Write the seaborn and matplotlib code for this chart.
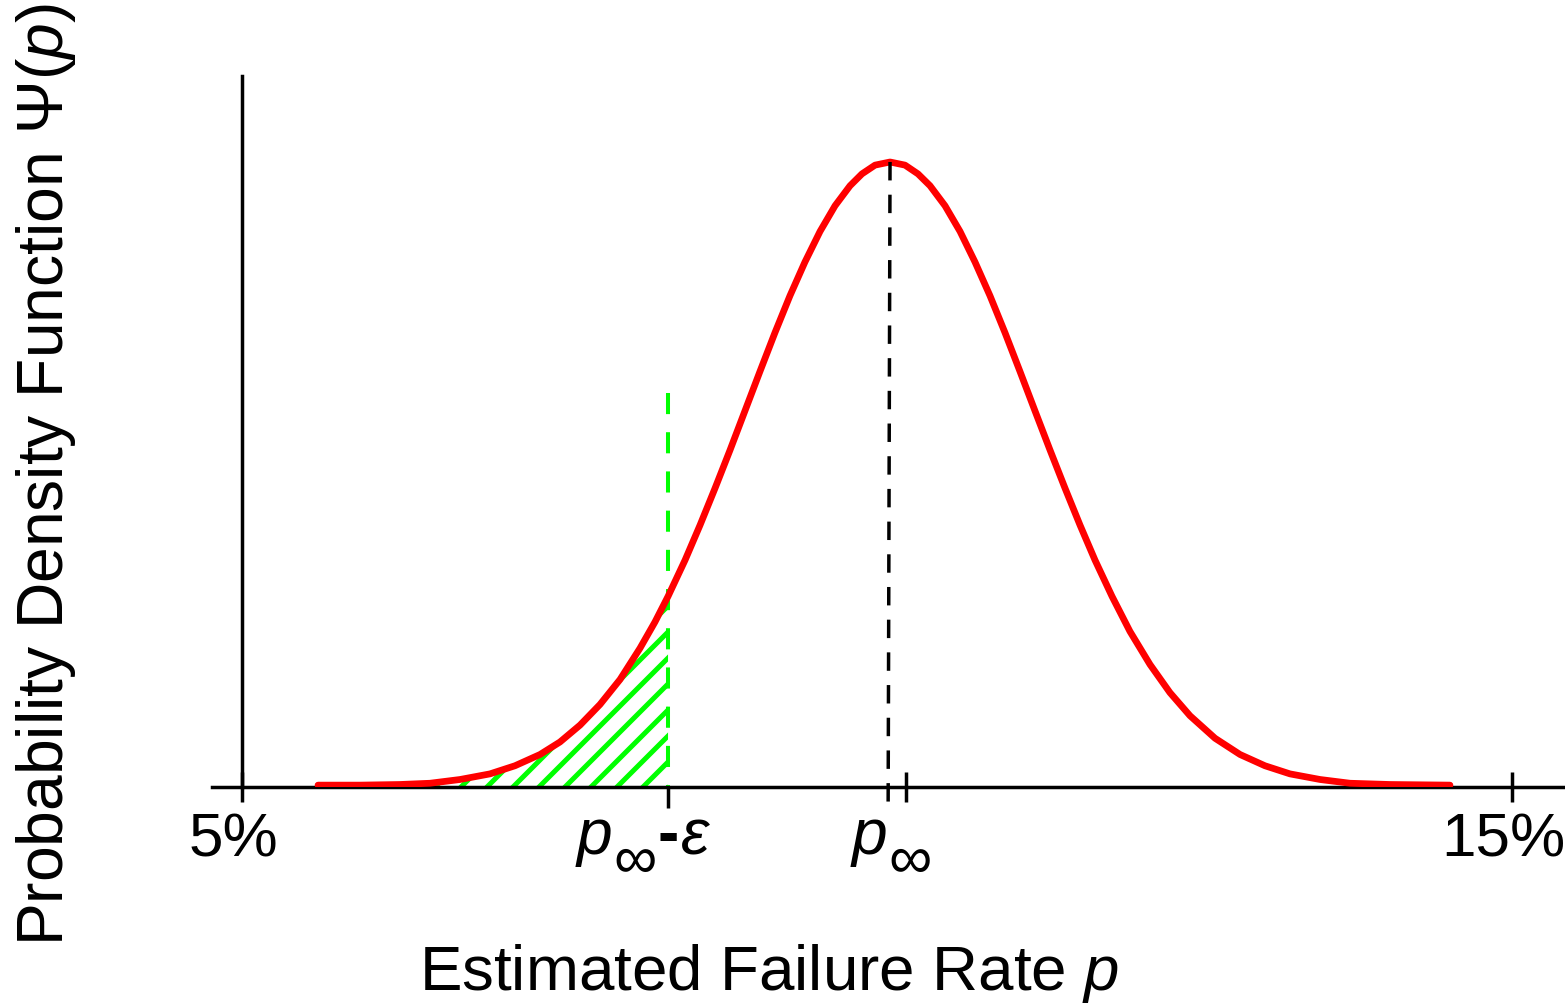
import numpy as np
import seaborn as sns
import matplotlib
matplotlib.use('Agg')
import matplotlib.pyplot as plt
from matplotlib.transforms import ScaledTranslation

# estimated failure rate (%) and relative density
rate = [5.601, 5.932, 6.246, 6.483, 6.719, 6.955, 7.152, 7.349, 7.506, 7.664,
        7.821, 7.979, 8.136, 8.254, 8.357, 8.491, 8.609, 8.727, 8.845, 8.963,
        9.081, 9.199, 9.317, 9.435, 9.554, 9.672, 9.790, 9.884, 9.987, 10.105,
        10.223, 10.325, 10.420, 10.538, 10.656, 10.774, 10.892, 11.010, 11.128, 11.246,
        11.365, 11.483, 11.601, 11.719, 11.853, 11.994, 12.152, 12.309, 12.467, 12.664,
        12.861, 13.057, 13.254, 13.491, 13.727, 14.042, 14.514]
density = [0.003, 0.003, 0.004, 0.006, 0.012, 0.021, 0.034, 0.052, 0.072, 0.099,
           0.132, 0.172, 0.222, 0.264, 0.305, 0.363, 0.419, 0.478, 0.539, 0.602,
           0.665, 0.727, 0.786, 0.840, 0.889, 0.930, 0.962, 0.981, 0.995, 1.0,
           0.995, 0.981, 0.962, 0.930, 0.889, 0.840, 0.786, 0.727, 0.665, 0.602,
           0.539, 0.478, 0.419, 0.363, 0.305, 0.249, 0.196, 0.151, 0.114, 0.078,
           0.052, 0.034, 0.021, 0.012, 0.006, 0.004, 0.003]

p_eps = 8.357          # p_inf - epsilon
p_inf_tick = 10.234
green_top = 0.63
peak_x = [10.105, 10.09]
peak_y = [1.0, -0.034]

tick_pos = [5, p_inf_tick, 15]
tick_text = ['5%', '', '15%']
marker_start = [7.624, 9.790]
marker_tail = [True, False]
base_y = -0.107

sns.set_theme(style='white')
plt.rcParams['font.family'] = ['Liberation Sans', 'DejaVu Sans']
plt.rcParams['mathtext.fontset'] = 'custom'
plt.rcParams['mathtext.rm'] = 'Liberation Sans'
plt.rcParams['mathtext.it'] = 'Liberation Sans:italic'
plt.rcParams['hatch.linewidth'] = 2.3

DPI = 156.5
fig = plt.figure(figsize=(1565 / DPI, 1003 / DPI), dpi=DPI)
ax = fig.add_axes([211.7 / 1565, 216 / 1003, 1 - 211.7 / 1565, 711 / 1003])

r = np.array(rate)
d = np.array(density)
ax.fill_between(r, 0, d, where=r <= p_eps + 1e-9, facecolor='none',
                edgecolor='#00ff00', hatch='//', linewidth=0, zorder=1)
ax.plot([p_eps, p_eps], [green_top, 0], color='#00ff00', lw=1.85,
        ls=(0, (5.25, 4.5)), zorder=2)
sns.lineplot(x=rate, y=density, ax=ax, color='#ff0000', lw=3.1, sort=False, zorder=3)
ax.plot(peak_x, peak_y, color='black', lw=1.6, ls=(0, (5.3, 4.1)),
        zorder=4, clip_on=False)

ax.set_xlim(4.7638, 15.4197)
ax.set_ylim(0, 1.1376)
for s in ['top', 'right']:
    ax.spines[s].set_visible(False)
ax.spines['left'].set_position(('data', 5))
for s in ['left', 'bottom']:
    ax.spines[s].set_color('black')
    ax.spines[s].set_linewidth(1.6)

ax.set_xticks(tick_pos, tick_text)
ax.set_xticks([p_eps], minor=True)
ax.set_yticks([])
ax.tick_params(axis='x', which='major', direction='inout', length=13.8, width=1.6,
               colors='black', labelsize=28.5, pad=5, bottom=True)
ax.tick_params(axis='x', which='minor', direction='out', length=9.7, width=1.6,
               colors='black', bottom=True)
for lab in ax.get_xticklabels():
    lab.set_transform(lab.get_transform() + ScaledTranslation(-8 / DPI, 0, fig.dpi_scale_trans))

# p_inf and p_inf - eps labels: italic p, full-size lowered infinity, then "-ε"
for xs, tail in zip(marker_start, marker_tail):
    tp = ax.text(xs, base_y, '$p$', ha='left', va='baseline', fontsize=29.5, color='black')
    ti = ax.annotate('\u221e', xy=(1, base_y), xycoords=(tp, 'data'), xytext=(0.5, -11),
                     textcoords='offset points', ha='left', va='baseline',
                     fontsize=28, color='black', annotation_clip=False)
    if tail:
        th = ax.annotate('-', xy=(1, base_y), xycoords=(ti, 'data'), xytext=(0.3, 0),
                         textcoords='offset points', ha='left', va='baseline',
                         fontsize=29.5, fontweight='bold', color='black', annotation_clip=False)
        ax.annotate(r'$\varepsilon$', xy=(1, base_y), xycoords=(th, 'data'), xytext=(0.8, 0),
                    textcoords='offset points', ha='left', va='baseline',
                    fontsize=29.5, color='black', annotation_clip=False)

ax.set_xlabel(r'Estimated Failure Rate $p$', fontsize=29.3, color='black')
ax.xaxis.set_label_coords(0.4118, -0.2855)
ax.xaxis.label.set_va('baseline')
ax.set_ylabel(r'Probability Density Function $\Psi(p)$', fontsize=29.5, color='black')
ax.yaxis.set_label_coords(-0.1224, 0.4388)
ax.yaxis.label.set_va('center')

fig.savefig('out.png', dpi=DPI)
